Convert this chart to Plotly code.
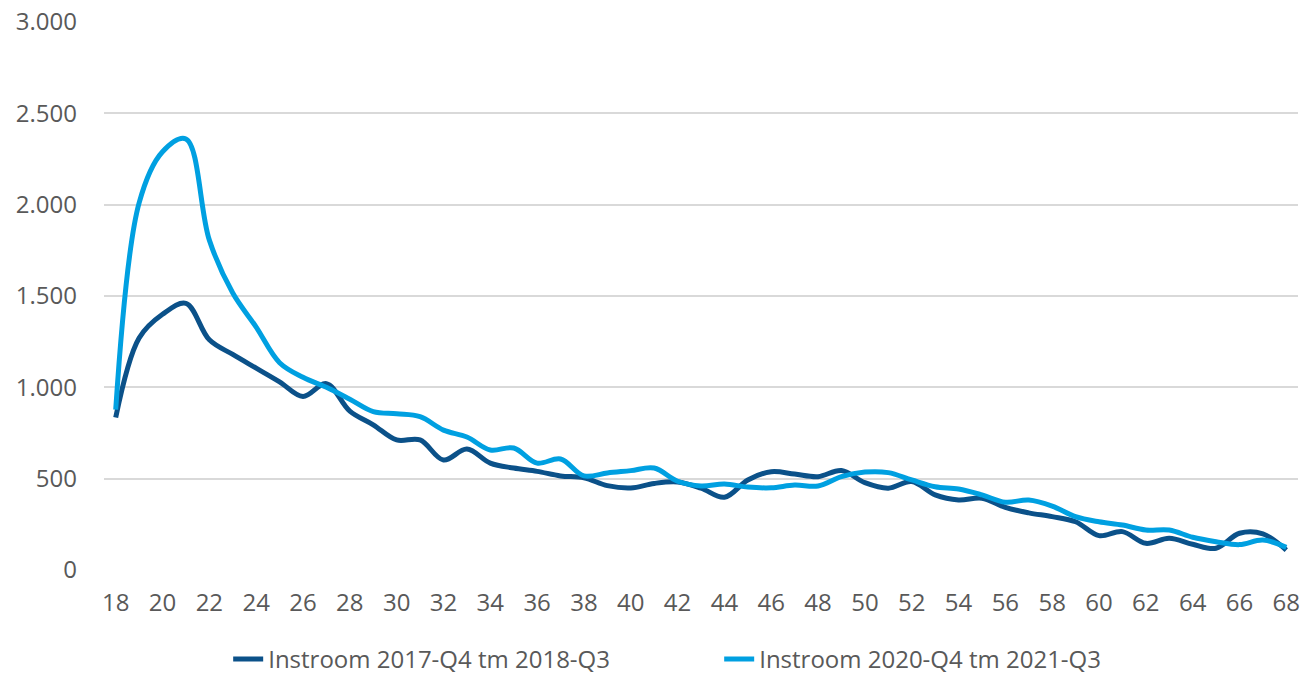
import plotly.graph_objects as go

leeftijd = list(range(18, 69))

instroom_2017 = [835, 1270, 1400, 1460, 1260, 1180, 1105, 1030, 950, 1020,
                 870, 795, 712, 712, 602, 662, 585, 558, 540, 515,
                 505, 462, 449, 474, 482, 448, 398, 493, 538, 525,
                 511, 545, 478, 448, 484, 411, 383, 393, 343, 313,
                 292, 264, 188, 210, 146, 174, 141, 119, 201, 198,
                 109]

instroom_2020 = [878, 2010, 2290, 2360, 1806, 1516, 1330, 1135, 1055, 1000,
                 935, 867, 855, 839, 766, 728, 657, 668, 585, 608,
                 515, 531, 544, 558, 486, 460, 471, 454, 450, 465,
                 460, 511, 536, 533, 493, 456, 443, 411, 371, 383,
                 350, 292, 264, 246, 219, 219, 179, 155, 139, 164,
                 124]

namen = ['Instroom 2017-Q4 tm 2018-Q3', 'Instroom 2020-Q4 tm 2021-Q3']
kleuren = ['#0B5189', '#00A0E1']

fig = go.Figure()
for naam, waarden, kleur in zip(namen, [instroom_2017, instroom_2020], kleuren):
    fig.add_trace(go.Scatter(
        x=leeftijd, y=waarden, name=naam, mode='lines',
        line=dict(color=kleur, width=5, shape='spline', smoothing=1),
    ))

fig.update_layout(
    width=1301, height=678,
    paper_bgcolor='white', plot_bgcolor='white',
    separators=',.',
    margin=dict(l=104, r=3, t=22, b=108, autoexpand=False),
    font=dict(family='Open Sans, sans-serif', size=24, color='#595959'),
    showlegend=True,
    legend=dict(orientation='h', x=0.104, xanchor='left',
                y=-0.163, yanchor='middle',
                font=dict(family='Open Sans, sans-serif', size=24, color='#595959'),
                traceorder='normal', entrywidth=446, entrywidthmode='pixels'),
    xaxis=dict(range=[17.5, 68.5], tickvals=list(range(18, 69, 2)), tickangle=0,
               showgrid=False, zeroline=False, showline=False,
               ticklabelstandoff=16, automargin=False),
    yaxis=dict(range=[0, 3000], dtick=500, separatethousands=True,
               showgrid=True, gridcolor='#D9D9D9', gridwidth=2,
               zeroline=False, showline=False, ticklabelstandoff=26,
               automargin=False),
)

# pagina-marge weg, zodat de figuur precies in het venster valt
fig.write_html('out.html', config={'displayModeBar': False},
               post_script="document.body.style.margin='0px';")
